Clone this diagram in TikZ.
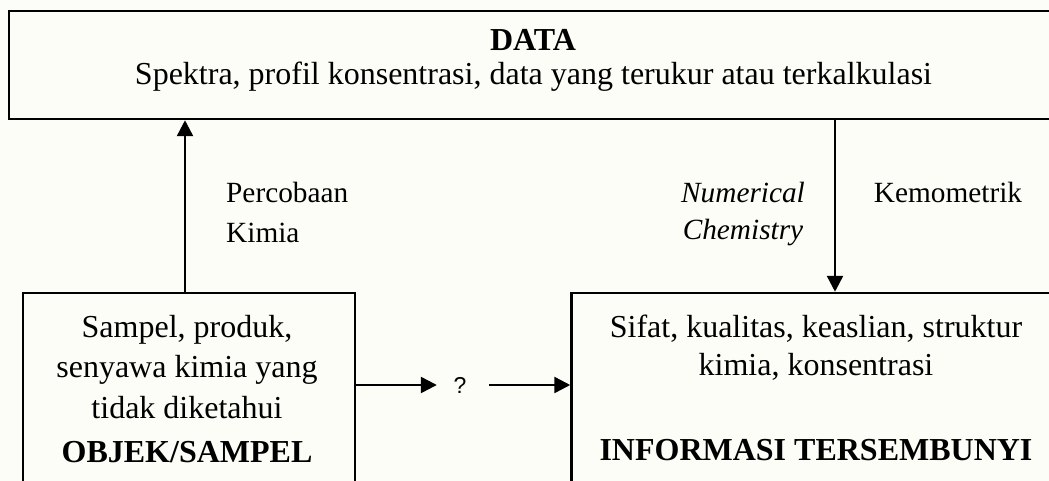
\documentclass[tikz,border=0pt]{standalone}
\usepackage{fontspec}
\setmainfont{Liberation Serif}
\newfontfamily\qfont{Liberation Sans}
\usetikzlibrary{arrows.meta}
\definecolor{bg}{RGB}{252,253,247}
\tikzset{
  box/.style={draw, line width=2.5pt, rectangle, inner sep=0pt},
  txt/.style={anchor=base, inner sep=0pt, font=\fontsize{32}{38}\selectfont},
  lbl/.style={anchor=base, inner sep=0pt, font=\fontsize{29.3}{35}\selectfont},
  arr/.style={line width=2.5pt, -{Triangle[length=16pt,width=16pt]}}
}
\begin{document}
\begin{tikzpicture}[x=1pt,y=-1pt]
\fill[bg] (0,0) rectangle (1049,481);
\useasboundingbox (0,0) rectangle (1049,481);
\clip (0,0) rectangle (1049,481);

% boxes
\node[box, minimum width=1061pt, minimum height=108pt] (data) at (539.5,65) {};
\node[box, minimum width=332pt, minimum height=267pt] (objek) at (189,426.5) {};
\node[box, minimum width=527pt, minimum height=267pt] (info) at (835,426.5) {};

% DATA texts
\node[txt] (dtitle) at (533,50.7) {\textbf{DATA}};
\node[txt] (dsub) at (533.5,85) {Spektra, profil konsentrasi, data yang terukur atau terkalkulasi};

% object texts
\node[txt] (o1) at (187,337) {Sampel, produk,};
\node[txt] (o2) at (187,377) {senyawa kimia yang};
\node[txt] (o3) at (187,418) {tidak diketahui};
\node[txt] (o4) at (187,462) {\textbf{OBJEK/SAMPEL}};

% info texts
\node[txt] (i1) at (816,337) {Sifat, kualitas, keaslian, struktur};
\node[txt] (i2) at (816,375.5) {kimia, konsentrasi};
\node[txt] (i3) at (816,460) {\textbf{INFORMASI TERSEMBUNYI}};

% labels
\node[lbl, anchor=base west] (p1) at (226,203) {Percobaan};
\node[lbl, anchor=base west] (p2) at (226,242) {Kimia};
\node[lbl] (n1) at (743,203) {\textit{Numerical}};
\node[lbl] (n2) at (743,240) {\textit{Chemistry}};
\node[lbl] (k1) at (948,203) {Kemometrik};

% question mark
\node[inner sep=0pt, minimum width=46pt, font=\qfont\fontsize{23}{26}\selectfont] (q) at (460,385) {?};

% connectors
\draw[arr] ([xshift=-4pt]objek.north) -- ([xshift=-4pt]objek.north |- data.south);
\draw[arr] (data.south -| info.north) -- (info.north);
\draw[arr] (objek.east |- q) -- (q.west);
\draw[arr] ([xshift=6pt]q.east) -- (q -| info.west);
\end{tikzpicture}
\end{document}
